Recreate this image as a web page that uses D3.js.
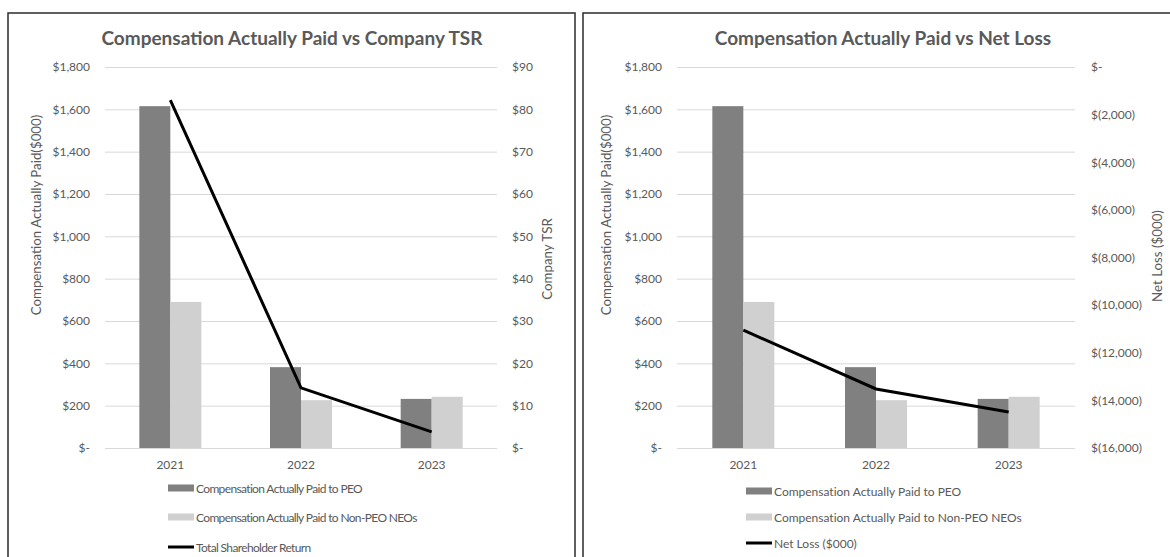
<!DOCTYPE html>
<html><head><meta charset="utf-8">
<script src="https://cdn.jsdelivr.net/npm/d3@7"></script>
<style>
html,body{margin:0;padding:0;background:#fff;}
svg{display:block;font-family:Lato,"Open Sans",sans-serif;}
</style></head>
<body>
<svg id="c" width="1170" height="557"></svg>
<script>
const years = ["2021", "2022", "2023"];
const capPEO = [1615, 382, 232];
const capNEO = [690, 226, 242];
const tsr = [82.2, 14.2, 3.8];
const netLoss = [-11050, -13520, -14490];
const capTicks = [0, 200, 400, 600, 800, 1000, 1200, 1400, 1600, 1800];
const tsrTicks = [0, 10, 20, 30, 40, 50, 60, 70, 80, 90];
const lossTicks = [-16000, -14000, -12000, -10000, -8000, -6000, -4000, -2000, 0];
const seriesNames = ["Compensation Actually Paid to PEO", "Compensation Actually Paid to Non-PEO NEOs"];
const lineNames = ["Total Shareholder Return", "Net Loss ($000)"];
const titles = ["Compensation Actually Paid vs Company TSR", "Compensation Actually Paid vs Net Loss"];
const leftAxisTitle = "Compensation Actually Paid($000)";
const rightAxisTitles = ["Company TSR", "Net Loss ($000)"];

const svg = d3.select("#c");
const TXT = "#595959";
const fmtMoney = v => v === 0 ? "$-" : (v < 0 ? "$(" + d3.format(",")(-v) + ")" : "$" + d3.format(",")(v));

// frames
svg.append("rect").attr("x", 8).attr("y", 13).attr("width", 567).attr("height", 600)
  .attr("fill", "none").attr("stroke", "#2b2b2b").attr("stroke-width", 1.5);
svg.append("rect").attr("x", 583).attr("y", 13).attr("width", 620).attr("height", 600)
  .attr("fill", "none").attr("stroke", "#2b2b2b").attr("stroke-width", 1.5);

function drawChart(cfg) {
  const g = svg.append("g");
  const y = d3.scaleLinear().domain([0, 1800]).range([448, 67]);
  const y2 = d3.scaleLinear().domain(cfg.y2Domain).range([448, 67]);
  const p = 1 - 62 / ((cfg.x1 - cfg.x0) / 3);
  const x = d3.scaleBand().domain(years).range([cfg.x0, cfg.x1]).paddingInner(p).paddingOuter(p / 2);
  const xs = d3.scaleBand().domain([0, 1]).range([0, x.bandwidth()]);

  // title
  g.append("text").attr("x", cfg.titleX).attr("y", 45).attr("text-anchor", "middle")
    .attr("font-size", 19).attr("font-weight", "bold").attr("fill", TXT).text(cfg.title);

  // gridlines + left axis
  const la = g.append("g").attr("transform", `translate(${cfg.x0},0)`)
    .call(d3.axisLeft(y).tickValues(capTicks).tickSize(-(cfg.x1 - cfg.x0)).tickPadding(15).tickFormat(fmtMoney));
  la.select(".domain").remove();
  la.selectAll(".tick line").attr("stroke", "#d9d9d9");
  la.selectAll(".tick text").attr("fill", TXT).attr("font-size", 12).attr("font-family", "Lato");

  // right axis
  const ra = g.append("g").attr("transform", `translate(${cfg.x1},0)`)
    .call(d3.axisRight(y2).tickValues(cfg.y2Ticks).tickSize(0).tickPadding(cfg.rPad).tickFormat(fmtMoney));
  ra.select(".domain").remove();
  ra.selectAll(".tick text").attr("fill", TXT).attr("font-size", 12).attr("font-family", "Lato");

  // x axis labels
  const xa = g.append("g").attr("transform", `translate(0,448)`)
    .call(d3.axisBottom(x).tickSize(0).tickPadding(12));
  xa.select(".domain").remove();
  xa.selectAll(".tick text").attr("fill", TXT).attr("font-size", 12).attr("font-family", "Lato");

  // bars
  const cols = ["#808080", "#d0d0d0"];
  [capPEO, capNEO].forEach((vals, si) => {
    g.append("g").selectAll("rect").data(years).join("rect")
      .attr("x", d => x(d) + xs(si))
      .attr("width", xs.bandwidth())
      .attr("y", (d, i) => y(vals[i]))
      .attr("height", (d, i) => y(0) - y(vals[i]))
      .attr("fill", cols[si]);
  });

  // line
  const line = d3.line().x((d, i) => x(years[i]) + x.bandwidth() / 2).y(d => y2(d));
  g.append("path").attr("d", line(cfg.lineVals)).attr("fill", "none")
    .attr("stroke", "#000").attr("stroke-width", 3);

  // axis titles
  g.append("text").attr("transform", `translate(${cfg.ltX},215) rotate(-90)`).attr("text-anchor", "middle")
    .attr("font-size", 13.3).attr("fill", TXT).text(leftAxisTitle);
  g.append("text").attr("transform", `translate(${cfg.rtX},${cfg.rtY}) rotate(-90)`).attr("text-anchor", "middle")
    .attr("font-size", 13.3).attr("fill", TXT).text(cfg.rightTitle);

  // legend
  const lg = g.append("g").attr("transform", `translate(${cfg.legX},0)`);
  const ly = cfg.legY;
  const texts = [];
  seriesNames.forEach((n, i) => {
    lg.append("rect").attr("x", 0).attr("y", ly[i] - 3.5).attr("width", 26).attr("height", 7).attr("fill", cols[i]);
    texts.push(lg.append("text").attr("x", 28).attr("y", ly[i] + 4.5).attr("font-size", 12).attr("fill", TXT).text(n));
  });
  lg.append("line").attr("x1", 0).attr("x2", 26).attr("y1", ly[2]).attr("y2", ly[2]).attr("stroke", "#000").attr("stroke-width", 3);
  texts.push(lg.append("text").attr("x", 28).attr("y", ly[2] + 4.5).attr("font-size", 12).attr("fill", TXT).text(cfg.lineName));
  // condense legend text so the longest label spans the reference width
  const w = texts[1].node().getComputedTextLength();
  const ls = (cfg.legW - w) / seriesNames[1].length;
  texts.forEach(t => t.attr("letter-spacing", ls));
}

drawChart({x0: 105, x1: 497, y2Domain: [0, 90], y2Ticks: tsrTicks, rPad: 15, lineVals: tsr,
  title: titles[0], titleX: 292, ltX: 41, rtX: 552, rtY: 259, rightTitle: rightAxisTitles[0],
  legX: 168, legY: [488, 517, 547], lineName: lineNames[0], legW: 221});
drawChart({x0: 677, x1: 1075, y2Domain: [-16000, 0], y2Ticks: lossTicks, rPad: 16, lineVals: netLoss,
  title: titles[1], titleX: 883, ltX: 611, rtX: 1162, rtY: 256, rightTitle: rightAxisTitles[1],
  legX: 746, legY: [491, 517, 543], lineName: lineNames[1], legW: 248});
</script>
</body></html>
